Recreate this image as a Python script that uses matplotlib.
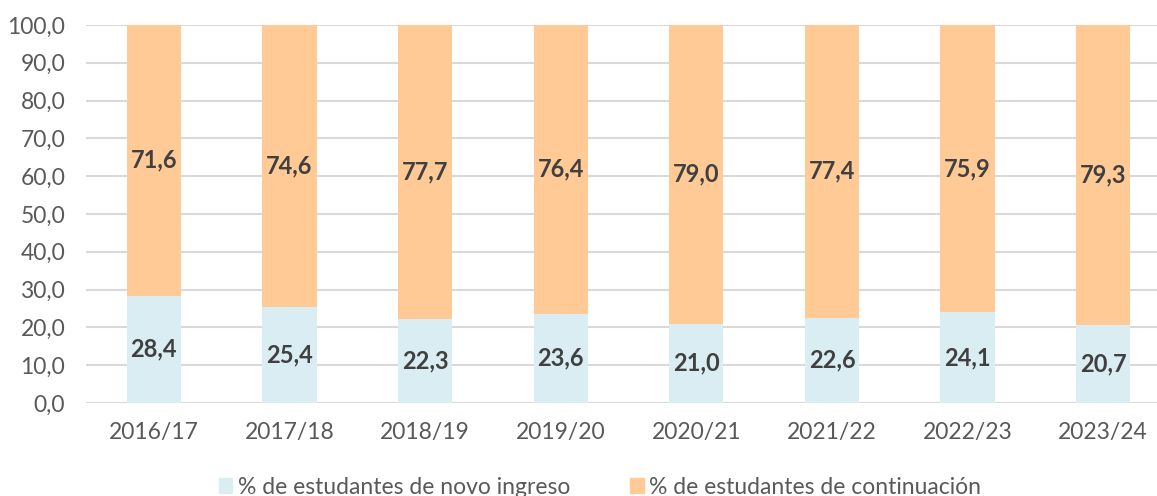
import matplotlib.pyplot as plt
from matplotlib.patches import Patch

plt.rcParams['font.family'] = ['Lato', 'DejaVu Sans']

years = ["2016/17", "2017/18", "2018/19", "2019/20", "2020/21", "2021/22", "2022/23", "2023/24"]
novo_ingreso = [28.4, 25.4, 22.3, 23.6, 21.0, 22.6, 24.1, 20.7]
continuacion = [71.6, 74.6, 77.7, 76.4, 79.0, 77.4, 75.9, 79.3]

c_blue = "#DAEDF3"
c_orange = "#FFCA96"

fig = plt.figure(figsize=(11.57, 4.96), dpi=100)
# axes runs off the right edge like the original
ax = fig.add_axes([86 / 1157, 1 - 403 / 496, 1085 / 1157, 378 / 496])

x = range(len(years))
ax.bar(x, novo_ingreso, width=0.4, color=c_blue, zorder=2)
ax.bar(x, continuacion, width=0.4, bottom=novo_ingreso, color=c_orange, zorder=2)

for i in x:
    ax.text(i, novo_ingreso[i] / 2, f"{novo_ingreso[i]:.1f}".replace(".", ","),
            ha="center", va="center", fontsize=17, fontweight="bold", color="#404040", zorder=3)
    ax.text(i, novo_ingreso[i] + continuacion[i] / 2, f"{continuacion[i]:.1f}".replace(".", ","),
            ha="center", va="center", fontsize=17, fontweight="bold", color="#404040", zorder=3)

ax.set_xlim(-0.5, len(years) - 0.5)
ax.set_ylim(0, 100)
ax.set_yticks(range(0, 101, 10))
ax.set_yticklabels([f"{v:.1f}".replace(".", ",") for v in range(0, 101, 10)])
ax.set_xticks(list(x))
ax.set_xticklabels(years)
ax.tick_params(length=0, labelsize=16.5, colors="#595959")
ax.tick_params(axis="x", pad=14)
ax.tick_params(axis="y", pad=15)
ax.grid(axis="y", color="#D9D9D9", linewidth=1.5, zorder=0)
for s in ax.spines.values():
    s.set_visible(False)

handles = [Patch(color=c_blue, label="% de estudantes de novo ingreso"),
           Patch(color=c_orange, label="% de estudantes de continuación")]
fig.legend(handles=handles, loc="center", bbox_to_anchor=(600 / 1157, 1 - 487 / 496),
           ncol=2, frameon=False, fontsize=16.5, handlelength=0.6, handleheight=0.6,
           handletextpad=0.25, columnspacing=2.6, labelcolor="#595959")

fig.savefig("out.png", dpi=100)
